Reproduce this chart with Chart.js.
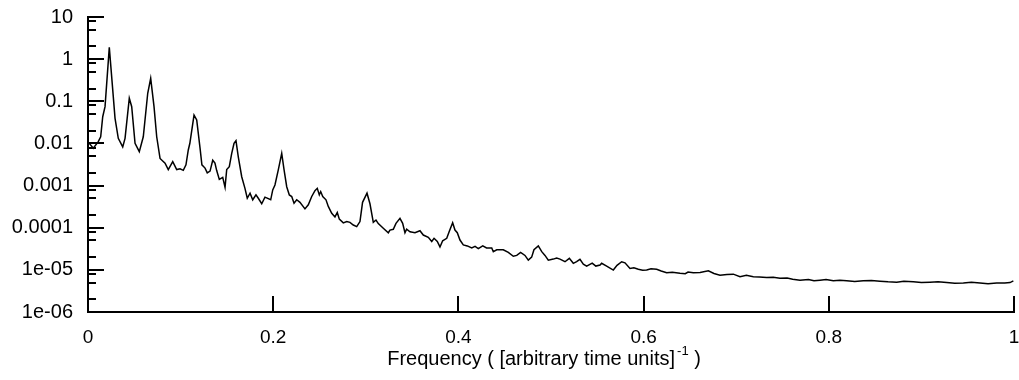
<!DOCTYPE html>
<html>
<head>
<meta charset="utf-8">
<title>Power spectrum</title>
<script src="https://cdn.jsdelivr.net/npm/chart.js@4.4.1/dist/chart.umd.min.js"></script>
<style>
    html, body { margin: 0; padding: 0; background: #fff; }
    #wrap { width: 1019px; height: 380px; }
</style>
</head>
<body>
<div id="wrap"><canvas id="spectrum" width="1019" height="380"></canvas></div>
<script>
// Spectrum
var freq = [
    0.001, 0.0057, 0.0111, 0.0137, 0.0159, 0.0184, 0.023, 0.0273, 0.0292, 0.0327,
    0.0375, 0.04, 0.0446, 0.0472, 0.0508, 0.0554, 0.0597, 0.0645, 0.0677, 0.0713,
    0.0742, 0.0778, 0.0832, 0.0867, 0.0915, 0.0958, 0.0994, 0.1029, 0.1058, 0.1083,
    0.110, 0.1145, 0.1174, 0.121, 0.123, 0.1264, 0.1288, 0.1318, 0.1347, 0.1371,
    0.1389, 0.1418, 0.1455, 0.148, 0.1498, 0.1526, 0.1552, 0.1577, 0.1598, 0.1623,
    0.166, 0.1695, 0.172, 0.175, 0.1779, 0.1814, 0.1839, 0.1876, 0.1911, 0.1973,
    0.1995, 0.2019, 0.2055, 0.2092, 0.2117, 0.2146, 0.2174, 0.22, 0.2225, 0.2254,
    0.2289, 0.2343, 0.2379, 0.2416, 0.2451, 0.2476, 0.2498, 0.2513, 0.2535, 0.257,
    0.2595, 0.2632, 0.2667, 0.2692, 0.2714, 0.2757, 0.2794, 0.2829, 0.2865, 0.2902,
    0.2937, 0.2965, 0.3013, 0.3045, 0.3081, 0.311, 0.3135, 0.3189, 0.3243, 0.3261,
    0.3297, 0.3326, 0.3369, 0.3398, 0.3423, 0.3441, 0.3477, 0.3531, 0.3585, 0.3621,
    0.3675, 0.3712, 0.3737, 0.3772, 0.3801, 0.383, 0.3874, 0.3902, 0.3938, 0.3963,
    0.3988, 0.4017, 0.4053, 0.4096, 0.4144, 0.418, 0.4215, 0.4263, 0.4304, 0.436,
    0.4377, 0.4414, 0.4485, 0.4539, 0.4593, 0.463, 0.4672, 0.4719, 0.4755, 0.4791,
    0.4816, 0.4863, 0.49, 0.4935, 0.4971, 0.5025, 0.5061, 0.5097, 0.5151, 0.5198,
    0.5241, 0.5277, 0.5313, 0.5349, 0.5385, 0.5445, 0.5484, 0.553, 0.5547, 0.5601,
    0.5673, 0.5713, 0.5763, 0.5799, 0.5853, 0.5895, 0.5943, 0.599, 0.6033, 0.608,
    0.6141, 0.619, 0.6249, 0.631, 0.6393, 0.645, 0.648, 0.6537, 0.661, 0.6699,
    0.676, 0.6825, 0.690, 0.6969, 0.7041, 0.711, 0.7185, 0.725, 0.7329, 0.740,
    0.7473, 0.755, 0.761, 0.7689, 0.778, 0.784, 0.7905, 0.797, 0.8049, 0.812,
    0.8193, 0.828, 0.8373, 0.846, 0.8553, 0.864, 0.8733, 0.881, 0.8913, 0.900,
    0.9093, 0.918, 0.9273, 0.936, 0.9453, 0.954, 0.9633, 0.972, 0.9813, 0.990,
    0.9957, 0.9993
];
var power = [
    0.0103, 0.0077, 0.011, 0.0144, 0.043, 0.0745, 1.9, 0.129, 0.0395, 0.0132,
    0.0083, 0.0132, 0.118, 0.0745, 0.0101, 0.0064, 0.0144, 0.155, 0.35, 0.0745,
    0.0144, 0.0044, 0.0034, 0.0024, 0.0037, 0.0024, 0.0025, 0.0023, 0.0031, 0.007,
    0.0101, 0.047, 0.036, 0.0077, 0.0031, 0.0026, 0.002, 0.0022, 0.004, 0.0034,
    0.0023, 0.0014, 0.00157, 0.00091, 0.0024, 0.0028, 0.0058, 0.0101, 0.0116, 0.0048,
    0.00162, 0.00086, 0.0005, 0.00066, 0.00046, 0.0006, 0.0005, 0.00037, 0.00053, 0.00046,
    0.00079, 0.00103, 0.00235, 0.0058, 0.0024, 0.00094, 0.0006, 0.00055, 0.00038, 0.00046,
    0.0004, 0.00028, 0.00035, 0.00055, 0.00076, 0.00086, 0.0006, 0.00072, 0.00055, 0.00046,
    0.00032, 0.00022, 0.00018, 0.00023, 0.00016, 0.00013, 0.00014, 0.000134, 0.000116, 0.000106,
    0.00014, 0.0004, 0.00066, 0.00037, 0.000134, 0.000152, 0.000125, 0.000097, 0.000076, 0.000088,
    0.000092, 0.000127, 0.000167, 0.000127, 0.000076, 0.000092, 0.00008, 0.000076, 0.000085, 0.000067,
    0.000059, 0.000047, 0.000056, 0.000047, 0.000035, 0.000049, 0.000056, 0.000082, 0.000131, 0.000088,
    0.000076, 0.000051, 0.000039, 0.000037, 0.000033, 0.000036, 0.000032, 0.000037, 0.000033, 0.000033,
    0.000027, 0.00003, 0.00003, 0.000026, 0.000021, 0.000022, 0.000026, 0.000022, 0.000017, 0.00002,
    0.00003, 0.000037, 0.000027, 0.000022, 0.000017, 0.000018, 0.000019, 0.000018, 0.0000156, 0.0000188,
    0.0000143, 0.0000156, 0.0000177, 0.0000137, 0.0000123, 0.0000145, 0.0000123, 0.000013, 0.0000143, 0.0000123,
    0.0000099, 0.0000128, 0.0000156, 0.0000147, 1.08e-5, 1.12e-5, 1.03e-5, 9.8e-6, 9.9e-6, 1.06e-5,
    1.03e-5, 9.4e-6, 8.5e-6, 8.8e-6, 8.3e-6, 8.1e-6, 8.9e-6, 8.5e-6, 8.7e-6, 9.5e-6,
    8.2e-6, 7.5e-6, 7.8e-6, 7.9e-6, 6.9e-6, 7.4e-6, 6.9e-6, 6.8e-6, 6.6e-6, 6.7e-6,
    6.3e-6, 6.4e-6, 6.0e-6, 5.7e-6, 5.9e-6, 5.5e-6, 5.7e-6, 5.9e-6, 5.5e-6, 5.7e-6,
    5.5e-6, 5.3e-6, 5.5e-6, 5.6e-6, 5.4e-6, 5.2e-6, 5.1e-6, 5.4e-6, 5.2e-6, 5.0e-6,
    5.1e-6, 5.2e-6, 5.0e-6, 4.8e-6, 4.9e-6, 5.1e-6, 4.9e-6, 4.7e-6, 4.9e-6, 4.9e-6,
    5.0e-6, 5.5e-6
];

// Axis ticks and labels
var xTicks = [0, 0.2, 0.4, 0.6, 0.8, 1];
var xTickLabels = ['0', '0.2', '0.4', '0.6', '0.8', '1'];
var yTicks = [10, 1, 0.1, 0.01, 0.001, 0.0001, 1e-5, 1e-6];
var yTickLabels = ['10', '1', '0.1', '0.01', '0.001', '0.0001', '1e-05', '1e-06'];
var yMinorTicks = [
    8, 5, 2, 0.8, 0.5, 0.2, 0.08, 0.05, 0.02, 0.008, 0.005, 0.002,
    8e-4, 5e-4, 2e-4, 8e-5, 5e-5, 2e-5, 8e-6, 5e-6, 2e-6
];
var xTitle = 'Frequency ( [arbitrary time units]';
var xTitleSup = '-1';
var xTitleEnd = ' )';

var FONT = '"Liberation Sans", Arial, Helvetica, sans-serif';

// Tick marks point into the plot, so they are drawn here instead of by the grid
var inwardTicks = {
    id: 'inwardTicks',
    afterDraw: function (chart) {
        var ctx = chart.ctx;
        var area = chart.chartArea;
        var xs = chart.scales.x;
        var ys = chart.scales.y;
        ctx.save();
        ctx.strokeStyle = '#000';
        ctx.lineWidth = 2;
        ctx.beginPath();
        yTicks.forEach(function (v) {
            var py = Math.round(ys.getPixelForValue(v));
            ctx.moveTo(area.left, py);
            ctx.lineTo(area.left + 16, py);
        });
        yMinorTicks.forEach(function (v) {
            var py = Math.round(ys.getPixelForValue(v));
            ctx.moveTo(area.left, py);
            ctx.lineTo(area.left + 8, py);
        });
        xTicks.forEach(function (v) {
            var px = Math.round(xs.getPixelForValue(v));
            ctx.moveTo(px, area.bottom);
            ctx.lineTo(px, area.bottom - 16);
        });
        ctx.stroke();

        // axis title with superscript
        var big = '20px ' + FONT;
        var small = '13px ' + FONT;
        ctx.fillStyle = '#000';
        ctx.textBaseline = 'alphabetic';
        ctx.textAlign = 'left';
        ctx.font = big;
        var w1 = ctx.measureText(xTitle).width;
        var w3 = ctx.measureText(xTitleEnd).width;
        ctx.font = small;
        var w2 = ctx.measureText(xTitleSup).width;
        var total = w1 + 2 + w2 + w3;
        var x0 = (area.left + area.right) / 2 - 7 - total / 2;
        var base = 365;
        ctx.font = big;
        ctx.fillText(xTitle, x0, base);
        ctx.font = small;
        ctx.fillText(xTitleSup, x0 + w1 + 2, base - 10);
        ctx.font = big;
        ctx.fillText(xTitleEnd, x0 + w1 + 2 + w2, base);
        ctx.restore();
    }
};

var points = freq.map(function (f, i) {
    return { x: f, y: power[i] };
});

new Chart(document.getElementById('spectrum').getContext('2d'), {
    type: 'line',
    data: {
        datasets: [{
            data: points,
            borderColor: '#000',
            borderWidth: 1.5,
            pointRadius: 0,
            tension: 0,
            fill: false
        }]
    },
    options: {
        responsive: false,
        animation: false,
        layout: { padding: { top: 17, right: 5, left: 0, bottom: 0 } },
        plugins: {
            legend: { display: false },
            tooltip: { enabled: false }
        },
        scales: {
            x: {
                type: 'linear',
                min: 0,
                max: 1,
                afterBuildTicks: function (scale) {
                    scale.ticks = xTicks.map(function (v) { return { value: v }; });
                },
                afterFit: function (scale) {
                    scale.height = 68;
                    scale.paddingLeft = 0;
                    scale.paddingRight = 0;
                },
                ticks: {
                    autoSkip: false,
                    maxRotation: 0,
                    padding: 14,
                    color: '#000',
                    font: { family: FONT, size: 19 },
                    callback: function (v, i) { return xTickLabels[i]; }
                },
                grid: { display: false, drawTicks: false },
                border: { display: true, color: '#000', width: 2 }
            },
            y: {
                type: 'logarithmic',
                min: 1e-6,
                max: 10,
                afterBuildTicks: function (scale) {
                    scale.ticks = yTicks.map(function (v) { return { value: v, major: true }; });
                },
                afterFit: function (scale) {
                    scale.width = 88;
                    scale.paddingTop = 0;
                    scale.paddingBottom = 0;
                },
                ticks: {
                    autoSkip: false,
                    padding: 15,
                    color: '#000',
                    font: { family: FONT, size: 20 },
                    callback: function (v, i) { return yTickLabels[i]; }
                },
                grid: { display: false, drawTicks: false },
                border: { display: true, color: '#000', width: 2 }
            }
        }
    },
    plugins: [inwardTicks]
});
</script>
</body>
</html>
